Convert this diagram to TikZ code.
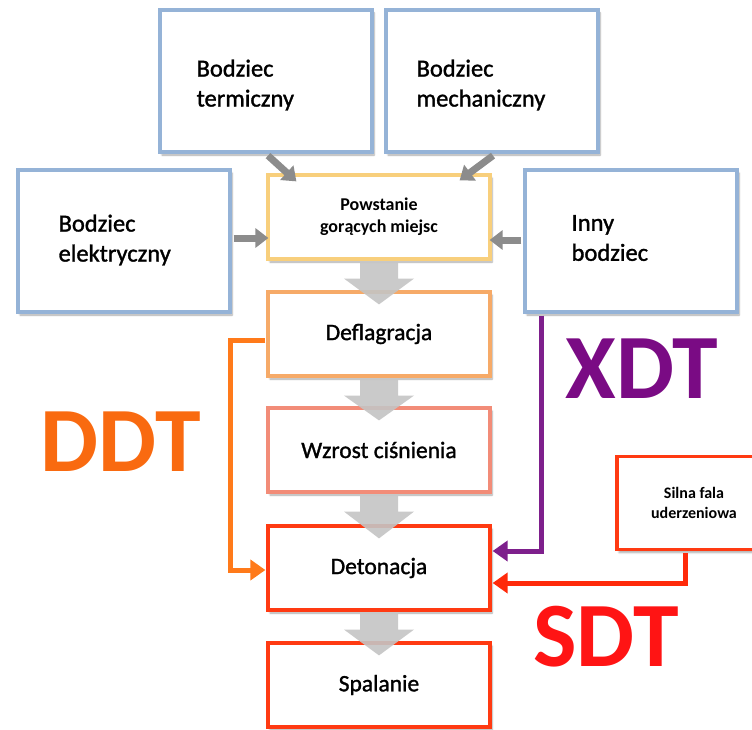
\documentclass[tikz,border=0pt]{standalone}
\usepackage{fontspec}
\setmainfont{Carlito}
\newfontfamily\medfont[FakeBold=1.3]{Carlito}
\usetikzlibrary{calc,arrows.meta,shadows.blur}
\definecolor{bluebd}{HTML}{95B3D7}
\definecolor{yelbd}{HTML}{F8CF7C}
\definecolor{orabd}{HTML}{F6AA68}
\definecolor{salbd}{HTML}{F28C78}
\definecolor{redbd}{HTML}{FF3A12}
\definecolor{ddtc}{HTML}{FF7A1A}
\definecolor{ddtl}{HTML}{F96A10}
\definecolor{xdtc}{HTML}{7E1F8C}
\definecolor{xdtl}{HTML}{7A0B84}
\definecolor{sdtc}{HTML}{FF2A0A}
\definecolor{sdtl}{HTML}{FF1414}
\definecolor{grayarr}{HTML}{8C8C8C}
\definecolor{blockarr}{HTML}{C4C4C4}
\begin{document}
\begin{tikzpicture}[x=1pt,y=-1pt,
  box/.style={draw, fill=white, line width=3.2pt, rectangle,
    blur shadow={shadow xshift=2pt, shadow yshift=-3pt, shadow opacity=35, shadow blur steps=6}},
  bodz/.style={box, draw=bluebd, minimum width=212pt, minimum height=142pt},
  btext/.style={anchor=west, align=left, inner sep=0pt,
    font=\medfont\fontsize{24.5}{30}\selectfont},
  mid/.style={box, minimum width=222pt, minimum height=84pt, align=center,
    font=\medfont\fontsize{23.5}{28}\selectfont},
  garr/.style={draw=grayarr, line width=7pt, -{Triangle[width=19pt,length=13pt]}},
  conn/.style={line width=5pt, -{Triangle[width=20pt,length=15pt]}},
  biglab/.style={font=\fontsize{92}{92}\selectfont\bfseries},
]
\useasboundingbox (0,0) rectangle (752,730);
\clip (0,0) rectangle (752,730);

% top/side stimulus boxes
\node[bodz] (term) at (266,81) {};
\node[bodz] (mech) at (492,81) {};
\node[bodz] (elek) at (124,241) {};
\node[bodz] (inny) at (631,241) {};
\node[btext] (tterm) at ($(term.west)+(38,4)$) {Bodziec\\termiczny};
\node[btext] (tmech) at ($(mech.west)+(32,4)$) {Bodziec\\mechaniczny};
\node[btext] (telek) at ($(elek.west)+(42,-1)$) {Bodziec\\elektryczny};
\node[btext] (tinny) at ($(inny.west)+(48,-3)$) {Inny\\bodziec};

% central chain
\node[mid, draw=yelbd, font=\fontsize{18}{22}\selectfont\bfseries] (powst) at (379,217) {Powstanie\\gorących miejsc};
\node[mid, draw=orabd] (defl) at (379,334) {Deflagracja};
\node[mid, draw=salbd] (wzrost) at (379,450) {Wzrost ciśnienia};
\node[mid, draw=redbd] (deton) at (379,568) {Detonacja};
\node[mid, draw=redbd] (spal) at (379,685) {Spalanie};

% shock wave box
\node[box, draw=redbd, minimum width=154pt, minimum height=93pt, align=center,
  font=\fontsize{16}{20}\selectfont\bfseries] (silna) at (694,503) {Silna fala\\uderzeniowa};

% gray block arrows between central boxes
\foreach \a/\b in {powst/defl, defl/wzrost, wzrost/deton, deton/spal}{
  \fill[blockarr, opacity=0.9]
    ($(\a.south)+(-19,2)$) -- ($(\a.south)+(19,2)$) --
    ($(\a.south)+(19,18)$) -- ($(\a.south)+(35,18)$) --
    ($(\b.north)+(0,14)$) --
    ($(\a.south)+(-35,18)$) -- ($(\a.south)+(-19,18)$) -- cycle;
}

% gray stimulus arrows
\draw[garr] ($(term.south)+(2,2)$) -- ($(powst.north west)+(30,8)$);
\draw[garr] ($(mech.south)+(1,2)$) -- ($(powst.north east)+(-32,7)$);
\draw[garr] ($(elek.east)+(2,-3)$) -- ($(powst.west)+(2,21)$);
\draw[garr] ($(inny.west)+(-2,-1)$) -- ($(powst.east)+(-2,23)$);

% transition connectors
\draw[conn, draw=ddtc, color=ddtc] ($(defl.west)+(-1,6)$) -- ++(-35,0) |- ($(deton.west)+(-1,2)$);
\draw[conn, draw=xdtc, color=xdtc] ($(inny.south west)+(18,2)$) |- ($(deton.east)+(1,-17)$);
\draw[conn, draw=sdtc, color=sdtc] ($(silna.south west)+(70,2)$) |- ($(deton.east)+(1,15)$);

% big labels
\node[biglab, text=ddtl] (ddt) at (121,442) {DDT};
\node[biglab, text=xdtl] (xdt) at (642,369) {XDT};
\node[biglab, text=sdtl] (sdt) at (606,637) {SDT};
\end{tikzpicture}
\end{document}
